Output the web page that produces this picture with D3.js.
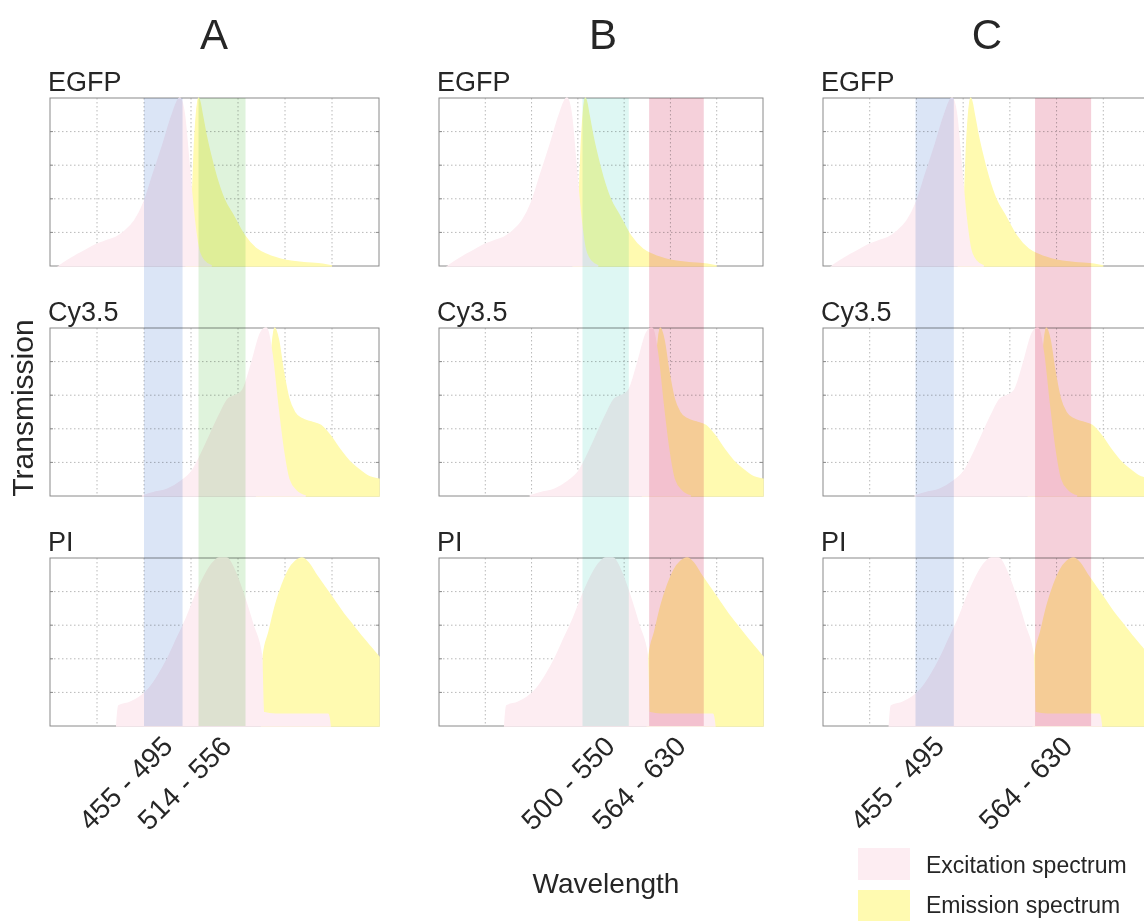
<!DOCTYPE html>
<html>
<head>
<meta charset="utf-8">
<script src="https://cdn.jsdelivr.net/npm/d3@7"></script>
<style>
  html, body { margin: 0; padding: 0; background: #fff; }
  svg { display: block; font-family: 'Liberation Sans', Arial, sans-serif; }
</style>
</head>
<body>
<div id="chart"></div>
<script>
// Column / row labels
const columns = ['A', 'B', 'C'];
const dyes = ['EGFP', 'Cy3.5', 'PI'];

// Axis settings
const wlDomain = [350, 700];
const gridWl = [400, 450, 500, 550, 600, 650];
const gridT = [0.2, 0.4, 0.6, 0.8];

// Filter bands per column (edges as drawn, labels as printed)
const bandLabels = [['455 - 495', '514 - 556'], ['500 - 550', '564 - 630'], ['455 - 495', '564 - 630']];
const bandLo = [[450, 508], [505, 577], [449, 577]];
const bandHi = [[491, 558], [555, 636], [490, 637]];

// EGFP
const egfpExWl = [360, 368, 380, 390, 400, 410, 420, 430, 440, 450, 460, 470, 480, 488, 493, 498, 503, 508, 514, 522];
const egfpExT  = [0, 0.03, 0.07, 0.1, 0.13, 0.15, 0.17, 0.21, 0.27, 0.38, 0.55, 0.72, 0.9, 1.0, 0.9, 0.6, 0.3, 0.1, 0.03, 0];
const egfpEmWl = [495, 500, 504, 508, 512, 516, 520, 527, 535, 545, 557, 570, 580, 600, 620, 640, 650];
const egfpEmT  = [0, 0.2, 0.75, 1.0, 0.9, 0.78, 0.68, 0.53, 0.4, 0.3, 0.18, 0.1, 0.07, 0.035, 0.02, 0.01, 0];

// Cy3.5
const cy35ExWl = [448, 460, 475, 490, 500, 510, 520, 530, 540, 548, 555, 565, 574, 580, 586, 592, 598, 604, 612, 622];
const cy35ExT  = [0, 0.02, 0.04, 0.09, 0.14, 0.24, 0.36, 0.48, 0.58, 0.6, 0.63, 0.8, 0.97, 1.0, 0.85, 0.55, 0.28, 0.1, 0.03, 0];
const cy35EmWl = [570, 580, 585, 589, 593, 598, 604, 610, 618, 628, 638, 648, 658, 668, 678, 688, 700];
const cy35EmT  = [0, 0.3, 0.8, 1.0, 0.93, 0.75, 0.58, 0.5, 0.46, 0.44, 0.42, 0.36, 0.28, 0.21, 0.16, 0.12, 0.1];

// PI
const piExWl = [421, 423, 435, 445, 455, 465, 475, 485, 495, 505, 515, 523, 530, 538, 546, 556, 566, 575, 577, 590, 620, 646, 648];
const piExT  = [0, 0.12, 0.14, 0.17, 0.22, 0.3, 0.4, 0.52, 0.64, 0.78, 0.9, 0.97, 1.0, 1.0, 0.93, 0.78, 0.6, 0.42, 0.08, 0.07, 0.07, 0.07, 0];
const piEmWl = [575, 577, 583, 590, 597, 604, 611, 618, 625, 632, 642, 652, 662, 672, 682, 691, 700];
const piEmT  = [0, 0.42, 0.56, 0.72, 0.84, 0.93, 0.98, 1.0, 0.97, 0.91, 0.83, 0.75, 0.67, 0.6, 0.53, 0.47, 0.41];

const exWl = [egfpExWl, cy35ExWl, piExWl];
const exT = [egfpExT, cy35ExT, piExT];
const emWl = [egfpEmWl, cy35EmWl, piEmWl];
const emT = [egfpEmT, cy35EmT, piEmT];

// Layout
const W = 1144, H = 921;
const colX = [50, 439, 823];
const colW = [329, 324, 327];
const rowY = [98, 328, 558];
const rowH = 168;

// Styles
const EX_FILL = '#fdedf2';
const EM_FILL = '#fffab0';
const BAND_FILL = [['#dbe5f6', '#dff3dc'], ['#def7f3', '#f5d0da'], ['#dbe5f6', '#f5d0da']];
const GRID = '#b8b8b8';
const FRAME = '#8a8a8a';
const TEXT = '#262626';

const svg = d3.select('#chart')
  .append('svg')
  .attr('width', W)
  .attr('height', H);

svg.append('rect')
  .attr('width', W)
  .attr('height', H)
  .style('fill', '#fff');

const defs = svg.append('defs');

columns.forEach((col, c) => {
  const x = d3.scaleLinear().domain(wlDomain).range([colX[c], colX[c] + colW[c]]);

  dyes.forEach((dye, r) => {
    const y = d3.scaleLinear().domain([0, 1]).range([rowY[r] + rowH, rowY[r]]);
    const g = svg.append('g');
    const clipId = `clip-${c}-${r}`;

    defs.append('clipPath')
      .attr('id', clipId)
      .append('rect')
      .attr('x', colX[c] - 1)
      .attr('y', rowY[r] - 1)
      .attr('width', colW[c] + 2)
      .attr('height', rowH + 2);

    // grid
    g.selectAll('.vgrid')
      .data(gridWl)
      .enter()
      .append('line')
      .attr('x1', d => x(d))
      .attr('x2', d => x(d))
      .attr('y1', y(1))
      .attr('y2', y(0))
      .style('stroke', GRID)
      .style('stroke-width', 1)
      .style('stroke-dasharray', '1.5,2.5');

    g.selectAll('.hgrid')
      .data(gridT)
      .enter()
      .append('line')
      .attr('x1', x(wlDomain[0]))
      .attr('x2', x(wlDomain[1]))
      .attr('y1', d => y(d))
      .attr('y2', d => y(d))
      .style('stroke', GRID)
      .style('stroke-width', 1)
      .style('stroke-dasharray', '1.5,2.5');

    // small inner ticks
    gridT.forEach(t => {
      g.append('line')
        .attr('x1', x(wlDomain[0])).attr('x2', x(wlDomain[0]) + 3)
        .attr('y1', y(t)).attr('y2', y(t))
        .style('stroke', FRAME);
      g.append('line')
        .attr('x1', x(wlDomain[1]) - 3).attr('x2', x(wlDomain[1]))
        .attr('y1', y(t)).attr('y2', y(t))
        .style('stroke', FRAME);
    });

    // frame
    g.append('rect')
      .attr('x', x(wlDomain[0]))
      .attr('y', y(1))
      .attr('width', x(wlDomain[1]) - x(wlDomain[0]))
      .attr('height', y(0) - y(1))
      .style('fill', 'none')
      .style('stroke', FRAME)
      .style('stroke-width', 1);

    const area = d3.area()
      .x(d => x(d[0]))
      .y0(y(0))
      .y1(d => y(d[1]))
      .curve(d3.curveMonotoneX);

    const fills = g.append('g').attr('clip-path', `url(#${clipId})`);

    // emission first, excitation on top
    fills.append('path')
      .datum(d3.zip(emWl[r], emT[r]))
      .attr('d', area)
      .style('fill', EM_FILL)
      .style('stroke', EM_FILL)
      .style('stroke-width', 1.5);

    fills.append('path')
      .datum(d3.zip(exWl[r], exT[r]))
      .attr('d', area)
      .style('fill', EX_FILL)
      .style('stroke', EX_FILL)
      .style('stroke-width', 1.5);

    // dye label
    svg.append('text')
      .attr('x', colX[c] - 2)
      .attr('y', rowY[r] - 7)
      .style('font-size', '27px')
      .style('fill', TEXT)
      .text(dye);
  });

  // filter bands across all three rows
  const top = rowY[0];
  const bottom = rowY[2] + rowH;
  bandLo[c].forEach((lo, i) => {
    const hi = bandHi[c][i];
    svg.append('rect')
      .attr('x', x(lo))
      .attr('y', top)
      .attr('width', x(hi) - x(lo))
      .attr('height', bottom - top)
      .style('fill', BAND_FILL[c][i])
      .style('mix-blend-mode', 'multiply');

    const lx = x((lo + hi) / 2) + 11;
    const ly = bottom + 22;
    svg.append('text')
      .attr('transform', `translate(${lx},${ly}) rotate(-45)`)
      .attr('text-anchor', 'end')
      .style('font-size', '28px')
      .style('fill', TEXT)
      .text(bandLabels[c][i]);
  });

  // column title
  svg.append('text')
    .attr('x', colX[c] + 164)
    .attr('y', 49)
    .attr('text-anchor', 'middle')
    .style('font-size', '42px')
    .style('fill', TEXT)
    .text(col);
});

// Axis titles
svg.append('text')
  .attr('transform', 'translate(33,408) rotate(-90)')
  .attr('text-anchor', 'middle')
  .style('font-size', '30px')
  .style('fill', TEXT)
  .text('Transmission');

svg.append('text')
  .attr('x', 606)
  .attr('y', 893)
  .attr('text-anchor', 'middle')
  .style('font-size', '28px')
  .style('fill', TEXT)
  .text('Wavelength');

// Legend
const legendItems = ['Excitation spectrum', 'Emission spectrum'];
const legendFill = [EX_FILL, EM_FILL];
legendItems.forEach((name, i) => {
  svg.append('rect')
    .attr('x', 858)
    .attr('y', 848 + i * 42)
    .attr('width', 52)
    .attr('height', 32)
    .style('fill', legendFill[i]);
  svg.append('text')
    .attr('x', 926)
    .attr('y', 873 + i * 40)
    .style('font-size', '23px')
    .style('fill', TEXT)
    .text(name);
});
</script>
</body>
</html>
